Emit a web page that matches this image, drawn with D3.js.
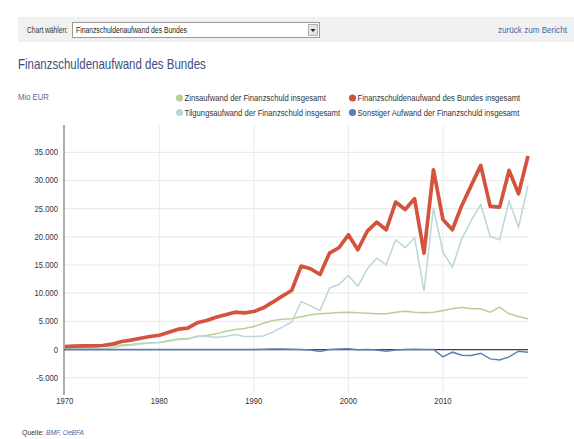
<!DOCTYPE html>
<html><head><meta charset="utf-8">
<script src="https://cdn.jsdelivr.net/npm/d3@7"></script>
<style>
body{margin:0;background:#fff;}
svg{display:block;}
svg text{font-family:"Liberation Sans",Arial,sans-serif;}
</style></head>
<body><svg id="c" width="574" height="439"></svg>
<script>
const years = d3.range(1970, 2020);
const zins = [400,430,470,520,580,650,800,900,1050,1150,1250,1600,1850,1950,2250,2490,2780,3200,3550,3730,4080,4670,5150,5380,5450,5800,6160,6340,6450,6570,6630,6510,6450,6340,6340,6630,6810,6630,6510,6630,6930,7220,7510,7220,7220,6630,7510,6340,5860,5450];
const tilgung = [130,160,180,130,130,300,620,760,960,1160,1290,1480,1760,1840,2400,2310,2190,2310,2660,2310,2310,2400,3080,3970,4850,8500,7750,6930,10900,11540,13140,11250,14330,16220,15040,19480,18060,19840,10360,25160,17290,14620,19650,22900,25750,20070,19480,26340,21730,29130];
const gesamt = [530,590,650,650,710,950,1420,1660,2010,2310,2540,3080,3610,3790,4740,5150,5740,6160,6630,6510,6750,7400,8400,9470,10480,14800,14330,13320,17100,18060,20360,17700,21020,22620,21250,26170,24860,26760,17100,31900,23090,21260,25570,29130,32680,25400,25270,31790,27650,34330];
const sonstiger = [0,0,0,0,0,0,0,0,0,0,0,0,0,0,0,0,0,0,0,0,0,50,100,100,50,0,-100,-350,0,100,150,-50,0,-100,-300,-100,0,50,0,0,-1300,-470,-1000,-1070,-650,-1660,-1840,-1300,-300,-470];
const yTicks = [-5000,0,5000,10000,15000,20000,25000,30000,35000];
const xTicks = [1970,1980,1990,2000,2010];
const seriesNames = ["Zinsaufwand der Finanzschuld insgesamt","Finanzschuldenaufwand des Bundes insgesamt","Tilgungsaufwand der Finanzschuld insgesamt","Sonstiger Aufwand der Finanzschuld insgesamt"];
const seriesColors = ["#bccf92","#d4533c","#b9d8d5","#5d7fb9"];

const svg = d3.select("#c");
const loc = d3.formatLocale({decimal:",",thousands:".",grouping:[3],currency:["","€"],minus:"-"});
const fmt = loc.format(",.0f");
function fit(sel, w){ return sel.attr("data-w", w); }

// top bar
svg.append("rect").attr("x",18).attr("y",17).attr("width",556).attr("height",25).attr("fill","#f1f1f1");
fit(svg.append("text").attr("x",27).attr("y",33).attr("font-size",9).attr("fill","#333").text("Chart wählen:"),41);
svg.append("rect").attr("x",72.5).attr("y",22.5).attr("width",247).attr("height",15).attr("fill","#fff").attr("stroke","#9a9a9a");
fit(svg.append("text").attr("x",76).attr("y",33.5).attr("font-size",9).attr("fill","#222").text("Finanzschuldenaufwand des Bundes"),111);
svg.append("rect").attr("x",308.5).attr("y",24.5).attr("width",9).attr("height",11).attr("fill","#e4e4e4").attr("stroke","#b0b0b0");
svg.append("path").attr("d","M310.5,29 L315.5,29 L313,32 Z").attr("fill","#222");
fit(svg.append("text").attr("x",498).attr("y",33).attr("font-size",9.5).attr("fill","#3a6aa8").text("zurück zum Bericht"),69);

// title
fit(svg.append("text").attr("x",18).attr("y",69).attr("font-size",14).attr("fill","#3d4f80").text("Finanzschuldenaufwand des Bundes"),188);
fit(svg.append("text").attr("x",18).attr("y",100).attr("font-size",9.5).attr("fill","#5a6aa0").text("Mio EUR"),31);

// legend
const legPos = [[179.5,98],[352.5,98],[179.5,112.5],[352.5,112.5]];
seriesNames.forEach((n,i)=>{
  const g = svg.append("g").attr("transform",`translate(${legPos[i][0]},${legPos[i][1]})`);
  g.append("circle").attr("r",3.6).attr("fill",seriesColors[i]);
  g.append("text").attr("x",5).attr("y",3).attr("font-size",9).attr("fill","#333").text(n);
});

// scales
const x = d3.scaleLinear().domain([1970,2019]).range([64.8,528]);
const y = d3.scaleLinear().domain([-5000,35000]).range([377.7,152.3]);

// horizontal grid
svg.append("g").selectAll("line").data(yTicks).join("line")
  .attr("x1",64).attr("x2",528).attr("y1",d=>y(d)).attr("y2",d=>y(d))
  .attr("stroke","#ebebeb").attr("stroke-width",1.2);
// vertical grid
svg.append("g").selectAll("line").data(xTicks.slice(1)).join("line")
  .attr("x1",d=>x(d)).attr("x2",d=>x(d)).attr("y1",125).attr("y2",395)
  .attr("stroke","#e8ebef").attr("stroke-width",1);

// y labels
svg.append("g").selectAll("text").data(yTicks).join("text")
  .attr("x",58).attr("y",d=>y(d)+3).attr("text-anchor","end")
  .attr("font-size",9).attr("fill","#333").text(d=>fmt(d));
// x labels
svg.append("g").selectAll("text").data(xTicks).join("text")
  .attr("x",d=>x(d)).attr("y",404).attr("text-anchor","middle")
  .attr("font-size",9).attr("fill","#333").text(d=>d);

// y axis line
svg.append("line").attr("x1",64).attr("x2",64).attr("y1",125).attr("y2",395).attr("stroke","#777").attr("stroke-width",1.2);

const line = d3.line().x((d,i)=>x(years[i])).y(d=>y(d));
// zero line
svg.append("line").attr("x1",64).attr("x2",528).attr("y1",y(0)).attr("y2",y(0)).attr("stroke","#3b4250").attr("stroke-width",1.3);

svg.append("path").datum(zins).attr("d",line).attr("fill","none").attr("stroke",seriesColors[0]).attr("stroke-width",1.5);
svg.append("path").datum(tilgung).attr("d",line).attr("fill","none").attr("stroke",seriesColors[2]).attr("stroke-width",1.5);
svg.append("path").datum(sonstiger).attr("d",line).attr("fill","none").attr("stroke",seriesColors[3]).attr("stroke-width",1.5);
svg.append("path").datum(gesamt).attr("d",line).attr("fill","none").attr("stroke",seriesColors[1]).attr("stroke-width",3.7).attr("stroke-linejoin","round");

// footer
fit(svg.append("text").attr("x",22).attr("y",435).attr("font-size",7.5).attr("fill","#333").text("Quelle:"),22);
fit(svg.append("text").attr("x",46).attr("y",435).attr("font-size",7.5).attr("fill","#3a6aa8").attr("font-style","italic").text("BMF, OeBFA"),38);

// the reference typeface is narrower than Liberation Sans: condense each text horizontally around its anchor
svg.selectAll("text").each(function(){
  const s = d3.select(this);
  const w = this.getComputedTextLength();
  const target = s.attr("data-w") ? +s.attr("data-w") : w*0.855;
  const k = target / w;
  const ax = +s.attr("x");
  s.attr("transform", `translate(${ax},0) scale(${k},1) translate(${-ax},0)`);
});
</script></body></html>
